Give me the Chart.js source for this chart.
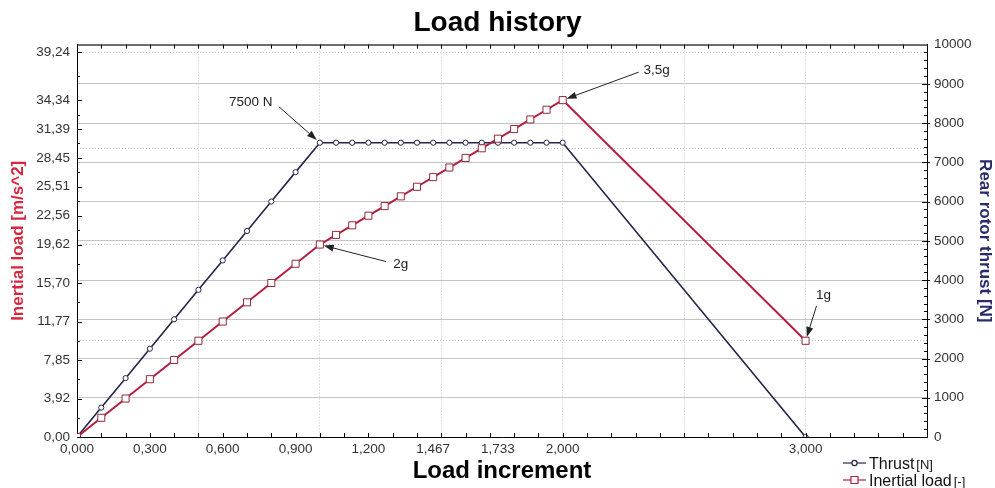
<!DOCTYPE html>
<html>
<head>
<meta charset="utf-8">
<title>Load history</title>
<script src="https://cdn.jsdelivr.net/npm/chart.js@4.4.1/dist/chart.umd.min.js"></script>
<style>
  html, body { margin: 0; padding: 0; background: #fff; }
  canvas { display: block; }
</style>
</head>
<body>
<canvas id="chart" width="995" height="488"></canvas>
<script>
// x values shared by both series
const loadIncrement = [0, 0.1, 0.2, 0.3, 0.4, 0.5, 0.6, 0.7, 0.8, 0.9, 1.0,
  1.0667, 1.1333, 1.2, 1.2667, 1.3333, 1.4, 1.4667, 1.5333, 1.6, 1.6667,
  1.7333, 1.8, 1.8667, 1.9333, 2.0, 3.0];
const thrust = [0, 750, 1500, 2250, 3000, 3750, 4500, 5250, 6000, 6750, 7500,
  7500, 7500, 7500, 7500, 7500, 7500, 7500, 7500, 7500, 7500,
  7500, 7500, 7500, 7500, 7500, 0];
const inertialLoad = [0, 1.96, 3.92, 5.89, 7.85, 9.81, 11.77, 13.73, 15.70, 17.66, 19.62,
  20.60, 21.58, 22.56, 23.54, 24.53, 25.51, 26.49, 27.47, 28.45, 29.43,
  30.41, 31.39, 32.37, 33.36, 34.34, 9.81];

const xTickLabels = [0, 0.3, 0.6, 0.9, 1.2, 1.4667, 1.7333, 2.0, 3.0];
const xGridLines = [0.5, 1.0, 1.5, 2.0, 2.5, 3.0];
const inertialTicks = [0, 3.92, 7.85, 11.77, 15.70, 19.62, 22.56, 25.51, 28.45, 31.39, 34.34, 39.24];
const gLevels = [9.81, 19.62, 29.43, 39.24];

const callouts = [
  { text: "7500 N", series: 0, index: 10, tail: [-41, -36], label: [-69, -40] },
  { text: "2g", series: 1, index: 10, tail: [66, 17], label: [81, 20] },
  { text: "3,5g", series: 1, index: 25, tail: [76, -28], label: [94, -30] },
  { text: "1g", series: 1, index: 26, tail: [11, -35], label: [18, -45] }
];

const THRUST = "#25254a";
const INERTIAL = "#b51f3f";
const GRID = "#c4c4c4";
const FONT = "'Liberation Sans', Arial, sans-serif";

const comma = (v, d) => v.toFixed(d).replace(".", ",");

// border, inward tick marks, callouts and legend
const extras = {
  id: "extras",
  afterDatasetsDraw(chart) {
    const { ctx, chartArea: a, scales } = chart;
    const x = scales.x, y = scales.y, y2 = scales.y2;
    ctx.save();
    ctx.strokeStyle = "#000";
    ctx.lineWidth = 1;
    ctx.beginPath();
    ctx.moveTo(a.left, a.top + 0.5);
    ctx.lineTo(a.right, a.top + 0.5);
    for (let k = 1; k < 35; k++) {
      const px = Math.round(x.getPixelForValue(k / 10)) + 0.5;
      ctx.moveTo(px, a.bottom); ctx.lineTo(px, a.bottom - 4);
      ctx.moveTo(px, a.top); ctx.lineTo(px, a.top + 4);
    }
    inertialTicks.forEach((v, i) => {
      const py = Math.round(y.getPixelForValue(v)) + 0.5;
      ctx.moveTo(a.left, py); ctx.lineTo(a.left + 5, py);
      if (i > 0) {
        const pm = Math.round(y.getPixelForValue((v + inertialTicks[i - 1]) / 2)) + 0.5;
        ctx.moveTo(a.left, pm); ctx.lineTo(a.left + 3, pm);
      }
    });
    for (let n = 200; n < 10000; n += 200) {
      const py = Math.round(y2.getPixelForValue(n)) + 0.5;
      const major = n % 1000 === 0;
      ctx.moveTo(a.right - (major ? 5 : 3), py);
      ctx.lineTo(a.right + (major ? 3 : 0), py);
    }
    ctx.stroke();

    // callouts
    ctx.font = "13.5px " + FONT;
    ctx.fillStyle = "#222";
    ctx.textAlign = "center";
    ctx.textBaseline = "middle";
    callouts.forEach(c => {
      const el = chart.getDatasetMeta(c.series).data[c.index];
      const tx = el.x + c.tail[0], ty = el.y + c.tail[1];
      const dx = el.x - tx, dy = el.y - ty;
      const len = Math.hypot(dx, dy);
      const ux = dx / len, uy = dy / len;
      const hx = el.x - ux * 4, hy = el.y - uy * 4;
      ctx.strokeStyle = "#222";
      ctx.beginPath();
      ctx.moveTo(tx, ty);
      ctx.lineTo(hx - ux * 6, hy - uy * 6);
      ctx.stroke();
      ctx.beginPath();
      ctx.moveTo(hx, hy);
      ctx.lineTo(hx - ux * 10 - uy * 3.5, hy - uy * 10 + ux * 3.5);
      ctx.lineTo(hx - ux * 10 + uy * 3.5, hy - uy * 10 - ux * 3.5);
      ctx.closePath();
      ctx.fill();
      ctx.fillText(c.text, el.x + c.label[0], el.y + c.label[1]);
    });

    // legend
    ctx.textAlign = "left";
    ctx.textBaseline = "alphabetic";
    chart.data.datasets.forEach((ds, i) => {
      const ly = 463 + i * 17;
      ctx.strokeStyle = ds.borderColor;
      ctx.lineWidth = 1.2;
      ctx.beginPath();
      ctx.moveTo(843, ly); ctx.lineTo(866, ly);
      ctx.stroke();
      ctx.fillStyle = "#fff";
      ctx.beginPath();
      if (ds.pointStyle === "rect") ctx.rect(851, ly - 3.5, 7, 7);
      else ctx.arc(854.5, ly, 2.6, 0, Math.PI * 2);
      ctx.fill();
      ctx.stroke();
      ctx.fillStyle = "#111";
      ctx.font = "16px " + FONT;
      ctx.fillText(ds.label, 869, ly + 6);
      const w = ctx.measureText(ds.label).width;
      ctx.font = "13px " + FONT;
      ctx.fillText(ds.unit, 869 + w + 2, ly + 6);
    });
    ctx.restore();
  }
};

new Chart(document.getElementById("chart"), {
  type: "line",
  data: {
    datasets: [
      {
        label: "Thrust",
        unit: "[N]",
        data: loadIncrement.map((v, i) => ({ x: v, y: thrust[i] })),
        yAxisID: "y2",
        borderColor: THRUST,
        borderWidth: 1.6,
        pointStyle: "circle",
        pointRadius: 2.6,
        pointBackgroundColor: "#fff",
        pointBorderColor: THRUST,
        pointBorderWidth: 1,
        order: 2
      },
      {
        label: "Inertial load",
        unit: "[-]",
        data: loadIncrement.map((v, i) => ({ x: v, y: inertialLoad[i] })),
        yAxisID: "y",
        borderColor: INERTIAL,
        borderWidth: 2,
        pointStyle: "rect",
        pointRadius: 5,
        pointBackgroundColor: "#fff",
        pointBorderColor: "#8e2a3a",
        pointBorderWidth: 1,
        order: 1
      }
    ]
  },
  options: {
    responsive: false,
    devicePixelRatio: 1,
    animation: false,
    layout: { padding: 0 },
    plugins: {
      legend: { display: false },
      tooltip: { enabled: false },
      title: {
        display: true,
        text: "Load history",
        color: "#000",
        font: { family: FONT, size: 28, weight: "bold" },
        padding: { top: 6, bottom: 5 }
      }
    },
    scales: {
      x: {
        type: "linear",
        min: 0,
        max: 3.5,
        afterBuildTicks: s => {
          s.ticks = [...new Set([...xTickLabels, ...xGridLines])]
            .sort((p, q) => p - q).map(v => ({ value: v }));
        },
        afterFit: s => { s.height = 51; },
        ticks: {
          autoSkip: false,
          maxRotation: 0,
          padding: 4,
          color: "#333",
          font: { family: FONT, size: 13.5 },
          callback: v => xTickLabels.includes(v) ? comma(v, 3) : ""
        },
        grid: {
          drawTicks: false,
          color: c => (c.tick && xGridLines.includes(c.tick.value)) ? GRID : "rgba(0,0,0,0)",
          lineWidth: 1
        },
        border: { color: "#000", width: 1, dash: [1, 2] },
        title: {
          display: true,
          text: "Load increment",
          color: "#000",
          font: { family: FONT, size: 24, weight: "bold" },
          padding: { top: 0, bottom: 2 }
        }
      },
      y: {
        type: "linear",
        position: "left",
        min: 0,
        max: 40,
        afterBuildTicks: s => { s.ticks = inertialTicks.map(v => ({ value: v })); },
        afterFit: s => { s.width = 77; },
        ticks: {
          autoSkip: false,
          padding: 7,
          color: "#333",
          font: { family: FONT, size: 13.5 },
          callback: v => comma(v, 2)
        },
        grid: { display: false, drawTicks: false },
        border: { color: "#000", width: 1 },
        title: {
          display: true,
          text: "Inertial load [m/s^2]",
          color: "#d7263d",
          font: { family: FONT, size: 17, weight: "bold" },
          padding: { top: 8, bottom: 0 }
        }
      },
      yg: {
        type: "linear",
        position: "left",
        min: 0,
        max: 40,
        afterBuildTicks: s => { s.ticks = gLevels.map(v => ({ value: v })); },
        afterFit: s => { s.width = 0; },
        ticks: { display: false },
        grid: { color: GRID, drawTicks: false, lineWidth: 1 },
        border: { display: false, dash: [1, 2] }
      },
      y2: {
        type: "linear",
        position: "right",
        min: 0,
        max: 10000,
        afterFit: s => { s.width = 68; },
        ticks: {
          stepSize: 1000,
          padding: 7,
          color: "#333",
          font: { family: FONT, size: 13.5 },
          callback: v => String(v)
        },
        grid: { color: GRID, drawTicks: false, lineWidth: 1 },
        border: { color: "#000", width: 1 },
        title: {
          display: true,
          text: "Rear rotor thrust [N]",
          color: "#2b2b6b",
          font: { family: FONT, size: 17, weight: "bold" },
          padding: { top: 0, bottom: 0 }
        }
      }
    }
  },
  plugins: [extras]
});
</script>
</body>
</html>
